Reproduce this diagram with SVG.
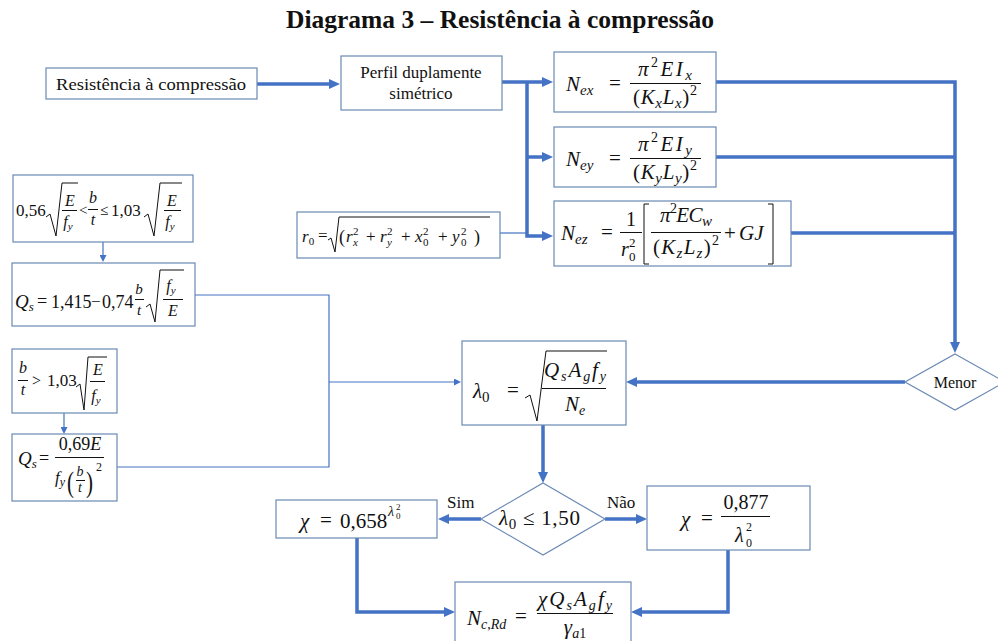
<svg xmlns="http://www.w3.org/2000/svg" width="998" height="641" viewBox="0 0 998 641">
  <style>
    .bx { fill: #ffffff; stroke: #6a89b4; stroke-width: 1.2; }
    .k { fill: none; stroke: #4472c4; stroke-width: 3.5; }
    .t { fill: none; stroke: #4472c4; stroke-width: 1.2; }
    .f { font-family: "Liberation Serif", "DejaVu Serif", serif; fill: #111111; }
    .i { font-style: italic; }
    .u { font-style: normal; }
    .r { fill: none; stroke: #111111; stroke-width: 1; }
  </style>
  <defs>
    <marker id="ah" viewBox="0 0 11 10" markerWidth="11" markerHeight="10" refX="3" refY="5" orient="auto" markerUnits="userSpaceOnUse">
      <path d="M0,0 L11,5 L0,10 z" fill="#4472c4"/>
    </marker>
    <marker id="ahs" viewBox="0 0 7 7" markerWidth="7" markerHeight="7" refX="2" refY="3.5" orient="auto" markerUnits="userSpaceOnUse">
      <path d="M0,0 L7,3.5 L0,7 z" fill="#4472c4"/>
    </marker>
  </defs>

  <rect width="998" height="641" fill="#ffffff"/>

  <text class="f" x="500" y="28" text-anchor="middle" font-weight="bold" font-size="26" textLength="428" lengthAdjust="spacingAndGlyphs">Diagrama 3 – Resistência à compressão</text>

  <!-- connectors -->
  <g id="connectors">
    <path class="k" d="M257,84 H332" marker-end="url(#ah)"/>
    <path class="k" d="M502,82 H545" marker-end="url(#ah)"/>
    <path class="k" d="M527,82 V236 H545" marker-end="url(#ah)"/>
    <path class="k" d="M527,157 H545" marker-end="url(#ah)"/>
    <path class="k" d="M716,82 H955 V345" marker-end="url(#ah)"/>
    <path class="k" d="M716,157 H955"/>
    <path class="k" d="M791,233 H955"/>
    <path class="k" d="M905,382 H634" marker-end="url(#ah)"/>
    <path class="k" d="M543,425 V475" marker-end="url(#ah)"/>
    <path class="k" d="M481,519 H446" marker-end="url(#ah)"/>
    <path class="k" d="M605,519 H639" marker-end="url(#ah)"/>
    <path class="k" d="M357,538 V612 H447" marker-end="url(#ah)"/>
    <path class="k" d="M728,550 V612 H639" marker-end="url(#ah)"/>
    <path class="t" d="M103,242 V257" marker-end="url(#ahs)"/>
    <path class="t" d="M64,413 V429" marker-end="url(#ahs)"/>
    <path class="t" d="M195,295 H329 V467 H117"/>
    <path class="t" d="M329,382 H456" marker-end="url(#ahs)"/>
    <path class="t" d="M500,233 H527"/>
  </g>

  <!-- start -->
  <g id="n-start">
    <rect class="bx" x="46" y="68" width="211" height="31"/>
    <text class="f" x="151" y="90" text-anchor="middle" font-size="17" textLength="190" lengthAdjust="spacingAndGlyphs">Resistência à compressão</text>
  </g>

  <g id="n-perfil">
    <rect class="bx" x="341" y="56" width="161" height="54"/>
    <text class="f" x="421" y="78" text-anchor="middle" font-size="17">Perfil duplamente</text>
    <text class="f" x="421" y="99" text-anchor="middle" font-size="17">simétrico</text>
  </g>

  <!-- N_ex -->
  <g id="n-nex">
    <rect class="bx" x="554" y="52" width="162" height="60"/>
    <text class="f i" x="566" y="91" font-size="21">N<tspan font-size="15" dy="4">ex</tspan></text>
    <text class="f" x="609" y="90" font-size="21">=</text>
    <text class="f i" x="665" y="76" font-size="21" text-anchor="middle" textLength="54">π<tspan class="u" font-size="14" dy="-9">2</tspan><tspan dy="9">EI</tspan><tspan font-size="15" dy="4">x</tspan></text>
    <line class="r" x1="630" y1="83.5" x2="701" y2="83.5"/>
    <text class="f i" x="665" y="104" font-size="21" text-anchor="middle" textLength="64"><tspan class="u">(</tspan>K<tspan font-size="15" dy="4">x</tspan><tspan dy="-4">L</tspan><tspan font-size="15" dy="4">x</tspan><tspan class="u" dy="-4">)</tspan><tspan class="u" font-size="14" dy="-9">2</tspan></text>
  </g>

  <!-- N_ey -->
  <g id="n-ney">
    <rect class="bx" x="554" y="127" width="162" height="60"/>
    <text class="f i" x="566" y="166" font-size="21">N<tspan font-size="15" dy="4">ey</tspan></text>
    <text class="f" x="609" y="165" font-size="21">=</text>
    <text class="f i" x="665" y="151" font-size="21" text-anchor="middle" textLength="54">π<tspan class="u" font-size="14" dy="-9">2</tspan><tspan dy="9">EI</tspan><tspan font-size="15" dy="4">y</tspan></text>
    <line class="r" x1="630" y1="158.5" x2="701" y2="158.5"/>
    <text class="f i" x="665" y="179" font-size="21" text-anchor="middle" textLength="64"><tspan class="u">(</tspan>K<tspan font-size="15" dy="4">y</tspan><tspan dy="-4">L</tspan><tspan font-size="15" dy="4">y</tspan><tspan class="u" dy="-4">)</tspan><tspan class="u" font-size="14" dy="-9">2</tspan></text>
  </g>

  <!-- N_ez -->
  <g id="n-nez">
    <rect class="bx" x="554" y="201" width="237" height="65"/>
    <text class="f i" x="561" y="240" font-size="21">N<tspan font-size="15" dy="4">ez</tspan></text>
    <text class="f" x="601" y="239" font-size="21">=</text>
    <text class="f" x="631" y="226" font-size="20" text-anchor="middle">1</text>
    <line class="r" x1="620" y1="232.5" x2="642" y2="232.5"/>
    <text class="f i" x="621" y="256" font-size="20">r</text>
    <text class="f" x="629" y="261" font-size="13">0</text>
    <text class="f" x="629" y="247" font-size="13">2</text>
    <path class="r" d="M649,204 H644 V264 H649"/>
    <text class="f i" x="686" y="222" font-size="21" text-anchor="middle" textLength="52">π<tspan class="u" font-size="14" dy="-9">2</tspan><tspan dy="9">EC</tspan><tspan font-size="15" dy="4">w</tspan></text>
    <line class="r" x1="651" y1="232.5" x2="721" y2="232.5"/>
    <text class="f i" x="686" y="254" font-size="21" text-anchor="middle" textLength="66"><tspan class="u">(</tspan>K<tspan font-size="15" dy="4">z</tspan><tspan dy="-4">L</tspan><tspan font-size="15" dy="4">z</tspan><tspan class="u" dy="-4">)</tspan><tspan class="u" font-size="14" dy="-9">2</tspan></text>
    <text class="f" x="724" y="240" font-size="21">+</text>
    <text class="f i" x="739" y="240" font-size="21">GJ</text>
    <path class="r" d="M768,204 H773 V264 H768"/>
  </g>

  <!-- r0 -->
  <g id="n-r0">
    <rect class="bx" x="297" y="212" width="203" height="46"/>
    <text class="f i" x="302" y="242" font-size="17">r<tspan class="u" font-size="11" dy="3">0</tspan></text>
    <text class="f" x="318" y="241" font-size="17">=</text>
    <path class="r" d="M328,240 L331,238 L335,252 L339,217 H490"/>
    <text class="f" x="339" y="243" font-size="18">(</text>
    <text class="f i" x="346" y="242" font-size="17">r</text>
    <text class="f i" x="353" y="246" font-size="11">x</text>
    <text class="f" x="353" y="235" font-size="11">2</text>
    <text class="f" x="366" y="242" font-size="17">+</text>
    <text class="f i" x="380" y="242" font-size="17">r</text>
    <text class="f i" x="387" y="246" font-size="11">y</text>
    <text class="f" x="387" y="235" font-size="11">2</text>
    <text class="f" x="401" y="242" font-size="17">+</text>
    <text class="f i" x="415" y="242" font-size="17">x</text>
    <text class="f" x="423" y="246" font-size="11">0</text>
    <text class="f" x="423" y="235" font-size="11">2</text>
    <text class="f" x="438" y="242" font-size="17">+</text>
    <text class="f i" x="452" y="242" font-size="17">y</text>
    <text class="f" x="461" y="246" font-size="11">0</text>
    <text class="f" x="461" y="235" font-size="11">2</text>
    <text class="f" x="474" y="243" font-size="18">)</text>
  </g>

  <!-- limit 1 -->
  <g id="n-lim1">
    <rect class="bx" x="13" y="175" width="180" height="67"/>
    <text class="f" x="16" y="216" font-size="17">0,56</text>
    <path class="r" d="M46,217 L50,214 L56,236 L62,183 H78"/>
    <text class="f i" x="70" y="206" font-size="16" text-anchor="middle">E</text>
    <line class="r" x1="62" y1="210.5" x2="77" y2="210.5"/>
    <text class="f i" x="68" y="227" font-size="16" text-anchor="middle">f<tspan font-size="11" dy="3">y</tspan></text>
    <text class="f" x="79" y="215" font-size="15">&lt;</text>
    <text class="f i" x="93" y="203" font-size="16" text-anchor="middle">b</text>
    <line class="r" x1="88" y1="209.5" x2="98" y2="209.5"/>
    <text class="f i" x="93" y="225" font-size="16" text-anchor="middle">t</text>
    <text class="f" x="100" y="215" font-size="15">≤</text>
    <text class="f" x="111" y="216" font-size="17">1,03</text>
    <path class="r" d="M144,217 L148,214 L154,236 L160,183 H182"/>
    <text class="f i" x="172" y="206" font-size="16" text-anchor="middle">E</text>
    <line class="r" x1="164" y1="210.5" x2="181" y2="210.5"/>
    <text class="f i" x="170" y="227" font-size="16" text-anchor="middle">f<tspan font-size="11" dy="3">y</tspan></text>
  </g>

  <!-- Qs 1 -->
  <g id="n-qs1">
    <rect class="bx" x="12" y="263" width="183" height="63"/>
    <text class="f i" x="15" y="308" font-size="19">Q<tspan font-size="13" dy="3">s</tspan></text>
    <text class="f" x="37" y="307" font-size="18">=</text>
    <text class="f" x="51" y="308" font-size="18">1,415</text>
    <text class="f" x="91" y="307" font-size="17">−</text>
    <text class="f" x="102" y="308" font-size="18">0,74</text>
    <text class="f i" x="139" y="294" font-size="15" text-anchor="middle">b</text>
    <line class="r" x1="135" y1="299.5" x2="144" y2="299.5"/>
    <text class="f i" x="139" y="315" font-size="15" text-anchor="middle">t</text>
    <path class="r" d="M146,307 L150,304 L155,322 L160,270 H184"/>
    <text class="f i" x="171" y="291" font-size="16" text-anchor="middle">f<tspan font-size="11" dy="3">y</tspan></text>
    <line class="r" x1="163" y1="299.5" x2="183" y2="299.5"/>
    <text class="f i" x="173" y="316" font-size="16" text-anchor="middle">E</text>
  </g>

  <!-- limit 2 -->
  <g id="n-lim2">
    <rect class="bx" x="12" y="349" width="105" height="64"/>
    <text class="f i" x="23" y="373" font-size="16" text-anchor="middle">b</text>
    <line class="r" x1="18" y1="380.5" x2="28" y2="380.5"/>
    <text class="f i" x="23" y="395" font-size="16" text-anchor="middle">t</text>
    <text class="f" x="32" y="386" font-size="16">&gt;</text>
    <text class="f" x="47" y="386" font-size="17">1,03</text>
    <path class="r" d="M76,387 L80,384 L84,410 L88,357 H107"/>
    <text class="f i" x="98" y="375" font-size="16" text-anchor="middle">E</text>
    <line class="r" x1="90" y1="381.5" x2="105" y2="381.5"/>
    <text class="f i" x="96" y="401" font-size="16" text-anchor="middle">f<tspan font-size="11" dy="3">y</tspan></text>
  </g>

  <!-- Qs 2 -->
  <g id="n-qs2">
    <rect class="bx" x="12" y="434" width="105" height="67"/>
    <text class="f i" x="18" y="465" font-size="19">Q<tspan font-size="13" dy="3">s</tspan></text>
    <text class="f" x="39" y="464" font-size="18">=</text>
    <text class="f" x="80" y="450" font-size="18" text-anchor="middle">0,69<tspan class="i">E</tspan></text>
    <line class="r" x1="55" y1="457.5" x2="104" y2="457.5"/>
    <text class="f i" x="55" y="483" font-size="17">f<tspan font-size="12" dy="3">y</tspan></text>
    <text class="f" x="67" y="492" font-size="30" transform="translate(67 492) scale(0.7 1) translate(-67 -492)">(</text>
    <text class="f i" x="80" y="476" font-size="14" text-anchor="middle">b</text>
    <line class="r" x1="76" y1="480.5" x2="85" y2="480.5"/>
    <text class="f i" x="80" y="492" font-size="14" text-anchor="middle">t</text>
    <text class="f" x="86" y="492" font-size="30" transform="translate(86 492) scale(0.7 1) translate(-86 -492)">)</text>
    <text class="f" x="96" y="471" font-size="12">2</text>
  </g>

  <!-- lambda_0 -->
  <g id="n-lambda">
    <rect class="bx" x="462" y="341" width="164" height="84"/>
    <text class="f i" x="473" y="398" font-size="21">λ<tspan class="u" font-size="15" dy="4">0</tspan></text>
    <text class="f" x="507" y="397" font-size="21">=</text>
    <path class="r" d="M525,398 L530,395 L537,421 L546,351 H607"/>
    <text class="f i" x="575" y="377" font-size="21" text-anchor="middle" textLength="62">Q<tspan font-size="14" dy="4">s</tspan><tspan dy="-4">A</tspan><tspan font-size="14" dy="4">g</tspan><tspan dy="-4">f</tspan><tspan font-size="14" dy="4">y</tspan></text>
    <line class="r" x1="542" y1="388.5" x2="606" y2="388.5"/>
    <text class="f i" x="575" y="411" font-size="21" text-anchor="middle">N<tspan font-size="14" dy="4">e</tspan></text>
  </g>

  <!-- Menor -->
  <g id="n-menor">
    <polygon class="bx" points="955,354 1005,382 955,410 905,382"/>
    <text class="f" x="955" y="388" font-size="16" text-anchor="middle">Menor</text>
  </g>

  <!-- condition -->
  <g id="n-cond">
    <polygon class="bx" points="543,483 605,519 543,555 481,519"/>
    <text class="f i" x="499" y="525" font-size="21" textLength="81">λ<tspan class="u" font-size="15" dy="4">0</tspan><tspan class="u" dy="-4"> ≤ 1,50</tspan></text>
  </g>
  <text class="f" x="447" y="508" font-size="17">Sim</text>
  <text class="f" x="607" y="508" font-size="17">Não</text>

  <!-- chi, first branch -->
  <g id="n-chi1">
    <rect class="bx" x="276" y="500" width="161" height="38"/>
    <text class="f i" x="300" y="528" font-size="21">χ</text>
    <text class="f" x="320" y="527" font-size="21">=</text>
    <text class="f" x="340" y="528" font-size="21">0,658</text>
    <text class="f i" x="388" y="516" font-size="14">λ</text>
    <text class="f" x="396" y="519" font-size="9">0</text>
    <text class="f" x="396" y="510" font-size="9">2</text>
  </g>

  <!-- chi, second branch -->
  <g id="n-chi2">
    <rect class="bx" x="647" y="486" width="163" height="64"/>
    <text class="f i" x="681" y="526" font-size="21">χ</text>
    <text class="f" x="701" y="525" font-size="21">=</text>
    <text class="f" x="746" y="509" font-size="20" text-anchor="middle">0,877</text>
    <line class="r" x1="721" y1="516.5" x2="770" y2="516.5"/>
    <text class="f i" x="735" y="542" font-size="20">λ</text>
    <text class="f" x="746" y="547" font-size="12">0</text>
    <text class="f" x="746" y="531" font-size="12">2</text>
  </g>

  <!-- N_c,Rd -->
  <g id="n-ncrd">
    <rect class="bx" x="455" y="582" width="176" height="64"/>
    <text class="f i" x="467" y="625" font-size="21">N<tspan font-size="14" dy="4">c<tspan class="u">,</tspan>Rd</tspan></text>
    <text class="f" x="515" y="623" font-size="21">=</text>
    <text class="f i" x="575" y="606" font-size="21" text-anchor="middle" textLength="74">χQ<tspan font-size="14" dy="4">s</tspan><tspan dy="-4">A</tspan><tspan font-size="14" dy="4">g</tspan><tspan dy="-4">f</tspan><tspan font-size="14" dy="4">y</tspan></text>
    <line class="r" x1="537" y1="613.5" x2="613" y2="613.5"/>
    <text class="f i" x="575" y="634" font-size="21" text-anchor="middle">γ<tspan font-size="14" dy="4">a<tspan class="u">1</tspan></tspan></text>
  </g>
</svg>
